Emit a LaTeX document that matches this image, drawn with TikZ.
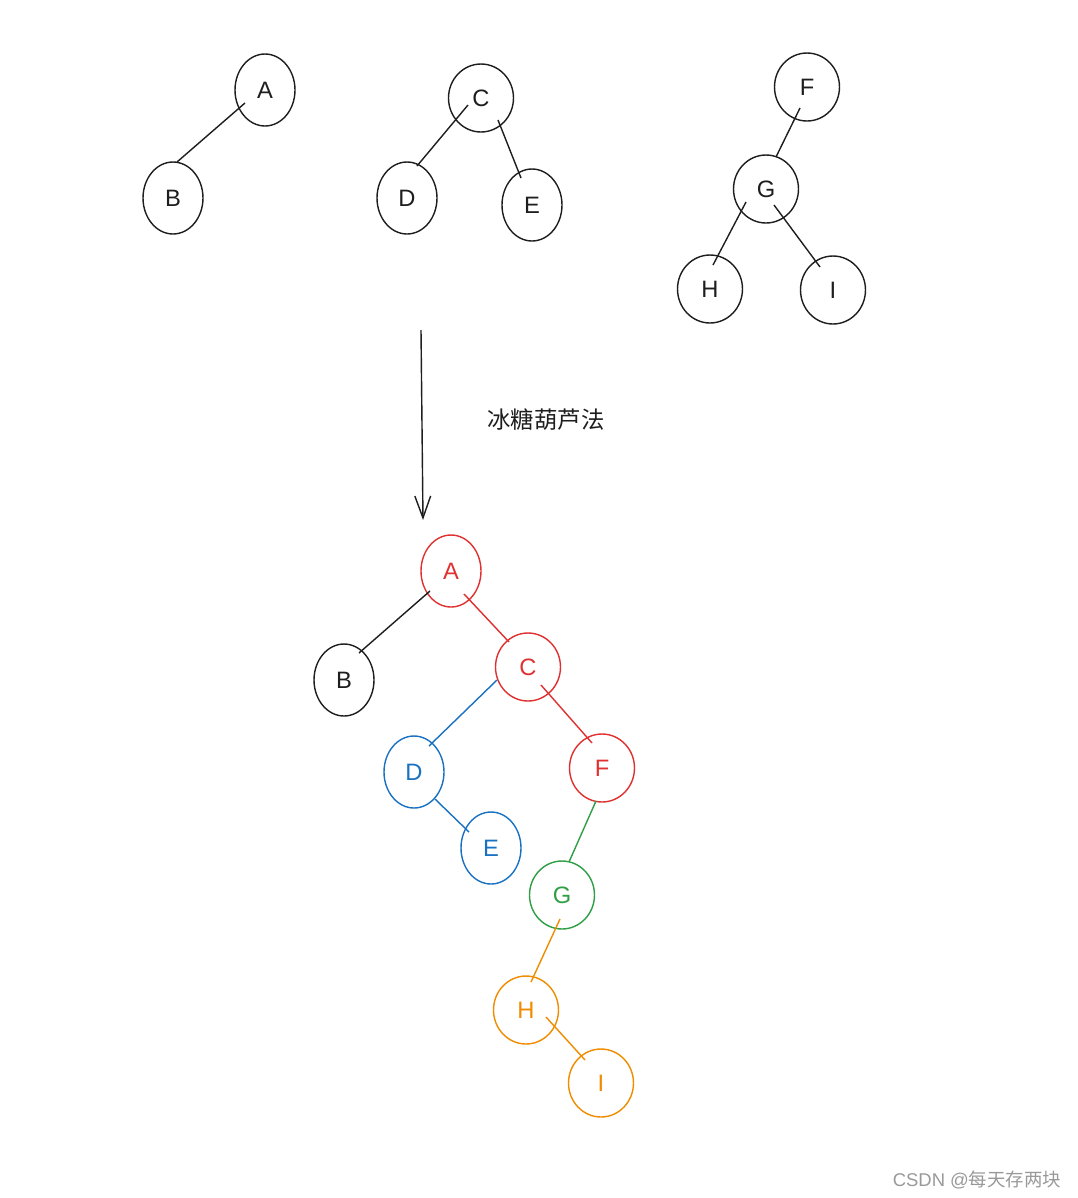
\documentclass[tikz,border=0pt]{standalone}
\usepackage{fontspec}
\setmainfont{Liberation Sans}
\newfontfamily\cjk{Noto Sans CJK SC}
\usetikzlibrary{shapes.geometric,arrows.meta}
\definecolor{inkblack}{HTML}{1E1E1E}
\definecolor{inkred}{HTML}{E03131}
\definecolor{inkblue}{HTML}{1971C2}
\definecolor{inkgreen}{HTML}{2F9E44}
\definecolor{inkorange}{HTML}{F08C00}
\tikzset{
  oval/.style={draw, ellipse, inner sep=0pt, minimum width=1.2cm, minimum height=1.44cm,
    font=\fontsize{13.5}{16}\selectfont},
  round/.style={draw, ellipse, inner sep=0pt, minimum width=1.3cm, minimum height=1.36cm,
    font=\fontsize{13.5}{16}\selectfont}
}
\begin{document}
\begin{tikzpicture}[x=0.02cm, y=-0.02cm, line width=0.8pt, draw=inkblack, text=inkblack]
\useasboundingbox (0,0) rectangle (1078,1198);

% three small trees
\node [oval] (tA) at (265,90) {A};
\node [oval] (tB) at (173,198) {B};
\node [round] (tC) at (481,98) {C};
\node [oval] (tD) at (407,198) {D};
\node [oval] (tE) at (532,205) {E};
\node [round] (tF) at (807,87) {F};
\node [round] (tG) at (766,189) {G};
\node [round] (tH) at (710,289) {H};
\node [round] (tI) at (833,290) {I};
\draw ([shift={(-20,13)}]tA.center) -- ([shift={(4,-36)}]tB.center);
\draw ([shift={(-13,7)}]tC.center) -- ([shift={(10,-32)}]tD.center);
\draw ([shift={(17,22)}]tC.center) -- ([shift={(-11,-27)}]tE.center);
\draw ([shift={(-7,21)}]tF.center) -- ([shift={(10,-32)}]tG.center);
\draw ([shift={(-20,13)}]tG.center) -- ([shift={(3,-24)}]tH.center);
\draw ([shift={(8,16)}]tG.center) -- ([shift={(-13,-23)}]tI.center);

% arrow and label
\coordinate (arrowtop) at (421,330);
\coordinate (arrowend) at (423,520);
\draw [-{Straight Barb[length=12.5pt, width=9pt]}] (arrowtop) -- (arrowend);
\node [font=\cjk\fontsize{13.3}{16}\selectfont] (method) at (546,420) {冰糖葫芦法};

% merged tree
\node [oval, draw=inkred, text=inkred] (bA) at (451,571) {A};
\node [oval] (bB) at (344,680) {B};
\node [round, draw=inkred, text=inkred] (bC) at (528,667) {C};
\node [oval, draw=inkblue, text=inkblue] (bD) at (414,772) {D};
\node [oval, draw=inkblue, text=inkblue] (bE) at (491,848) {E};
\node [round, draw=inkred, text=inkred] (bF) at (602,768) {F};
\node [round, draw=inkgreen, text=inkgreen] (bG) at (562,895) {G};
\node [round, draw=inkorange, text=inkorange] (bH) at (526,1010) {H};
\node [round, draw=inkorange, text=inkorange] (bI) at (601,1083) {I};
\draw ([shift={(-21,20)}]bA.center) -- ([shift={(15,-27)}]bB.center);
\draw [inkred] ([shift={(13,23)}]bA.center) -- ([shift={(-19,-25)}]bC.center);
\draw [inkblue] ([shift={(-31,13)}]bC.center) -- ([shift={(15,-26)}]bD.center);
\draw [inkred] ([shift={(13,18)}]bC.center) -- ([shift={(-10,-25)}]bF.center);
\draw [inkblue] ([shift={(21,27)}]bD.center) -- ([shift={(-22,-16)}]bE.center);
\draw [inkgreen] ([shift={(-6,33)}]bF.center) -- ([shift={(7,-33)}]bG.center);
\draw [inkorange] ([shift={(-2,24)}]bG.center) -- ([shift={(5,-28)}]bH.center);
\draw [inkorange] ([shift={(20,7)}]bH.center) -- ([shift={(-16,-23)}]bI.center);

\node [text=black!40, font=\fontsize{10.5}{12}\selectfont] (mark) at (977,1180) {CSDN @{\cjk 每天存两块}};
\end{tikzpicture}
\end{document}
